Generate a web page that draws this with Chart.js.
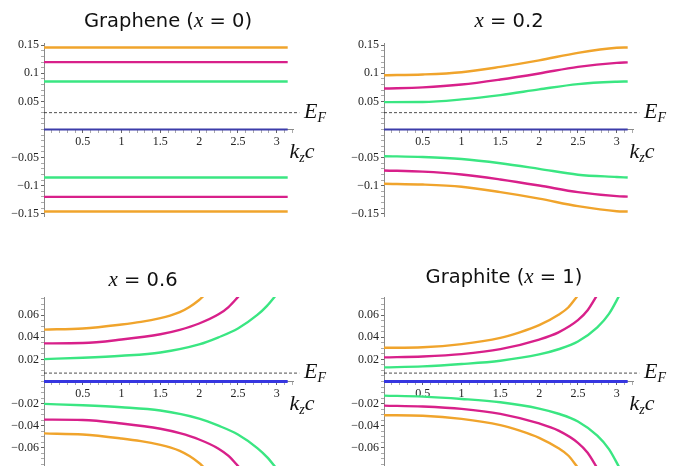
<!DOCTYPE html>
<html>
<head>
<meta charset="utf-8">
<script src="https://cdn.jsdelivr.net/npm/chart.js@4"></script>
<style>
  html, body { margin: 0; padding: 0; background: #fff; width: 683px; height: 466px; overflow: hidden; position: relative; }
  .panel { position: absolute; width: 340px; height: 230px; }
  .lbl { position: absolute; transform: translate(-50%, -50%); white-space: nowrap; color: #111; line-height: 1; }
  .title { font-family: "DejaVu Sans", sans-serif; font-size: 19.5px; }
  .mi { font-family: "Liberation Serif", serif; font-style: italic; font-size: 21px; }
  .ax { font-family: "Liberation Serif", serif; font-style: italic; font-size: 22px; }
  .ax sub { font-size: 14px; vertical-align: -4px; }
</style>
</head>
<body>

<div class="panel" style="left:0;top:0"><canvas id="p1" width="340" height="230"></canvas></div>
<div class="panel" style="left:340px;top:0"><canvas id="p2" width="340" height="230"></canvas></div>
<div class="panel" style="left:0;top:236px"><canvas id="p3" width="340" height="230"></canvas></div>
<div class="panel" style="left:340px;top:236px"><canvas id="p4" width="340" height="230"></canvas></div>

<div class="lbl title" style="left:168px;top:20px">Graphene (<span class="mi">x</span> = 0)</div>
<div class="lbl title" style="left:509px;top:20px"><span class="mi">x</span> = 0.2</div>
<div class="lbl title" style="left:143px;top:279px"><span class="mi">x</span> = 0.6</div>
<div class="lbl title" style="left:504px;top:276px">Graphite (<span class="mi">x</span> = 1)</div>

<div class="lbl ax" style="left:315px;top:112px">E<sub>F</sub></div>
<div class="lbl ax" style="left:302px;top:152px">k<sub>z</sub>c</div>
<div class="lbl ax" style="left:655px;top:112px">E<sub>F</sub></div>
<div class="lbl ax" style="left:642px;top:152px">k<sub>z</sub>c</div>
<div class="lbl ax" style="left:315px;top:372px">E<sub>F</sub></div>
<div class="lbl ax" style="left:302px;top:404px">k<sub>z</sub>c</div>
<div class="lbl ax" style="left:655px;top:372px">E<sub>F</sub></div>
<div class="lbl ax" style="left:642px;top:404px">k<sub>z</sub>c</div>

<script>
// ---- data (energies vs k_z c) ----------------------------------------------

const ORANGE = '#f0a42c', MAGENTA = '#d8208a', GREEN = '#3ae682';

const xTickValues = [0.5, 1, 1.5, 2, 2.5, 3];
const xTickLabels = ['0.5', '1', '1.5', '2', '2.5', '3'];
const yTickValuesWide = [0.15, 0.1, 0.05, -0.05, -0.1, -0.15];
const yTickLabelsWide = ['0.15', '0.1', '0.05', '\u22120.05', '\u22120.1', '\u22120.15'];
const yTickValuesNarrow = [0.06, 0.04, 0.02, -0.02, -0.04, -0.06];
const yTickLabelsNarrow = ['0.06', '0.04', '0.02', '\u22120.02', '\u22120.04', '\u22120.06'];

const efWideX = [0, 3.29];   const efWide = [0.03, 0.03];
const efNarrowX = [0, 3.29]; const efNarrow = [0.0076, 0.0076];
const zeroX = [0, 3.1416];   const zeroBand = [0, 0];

// Graphene (x = 0): flat bands
const kzG = [0, 3.1416];
const gOrangeUp = [0.146, 0.146],   gOrangeDn = [-0.146, -0.146];
const gMagentaUp = [0.12, 0.12],    gMagentaDn = [-0.12, -0.12];
const gGreenUp = [0.0855, 0.0855],  gGreenDn = [-0.0855, -0.0855];

// x = 0.2
const kz2 = [0, 0.5, 1, 1.5, 2, 2.5, 3, 3.1416];
const p2OrangeUp  = [0.0965, 0.098, 0.102, 0.1115, 0.123, 0.1365, 0.1455, 0.146];
const p2MagentaUp = [0.073, 0.075, 0.080, 0.089, 0.0998, 0.1116, 0.1187, 0.1195];
const p2GreenUp   = [0.0488, 0.049, 0.0536, 0.0613, 0.0714, 0.0808, 0.085, 0.0855];
const p2OrangeDn  = [-0.0965, -0.098, -0.102, -0.1115, -0.123, -0.1365, -0.1455, -0.146];
const p2MagentaDn = [-0.073, -0.075, -0.080, -0.089, -0.0998, -0.1116, -0.1187, -0.1195];
const p2GreenDn   = [-0.0475, -0.049, -0.0525, -0.06, -0.07, -0.0805, -0.0845, -0.0855];

// x = 0.6
const kz3Orange  = [0, 0.5, 1, 1.25, 1.5, 1.625, 1.75, 1.875, 2, 2.08];
const p3OrangeUp = [0.047, 0.048, 0.0516, 0.054, 0.0574, 0.0597, 0.0628, 0.0675, 0.0738, 0.079];
const p3OrangeDn = [-0.047, -0.048, -0.0516, -0.054, -0.0574, -0.0597, -0.0628, -0.0675, -0.0738, -0.079];
const kz3Magenta  = [0, 0.5, 1, 1.5, 1.75, 2, 2.25, 2.375, 2.52];
const p3MagentaUp = [0.0345, 0.0348, 0.038, 0.0428, 0.0468, 0.0525, 0.0608, 0.0672, 0.078];
const p3MagentaDn = [-0.0345, -0.0348, -0.038, -0.0428, -0.0468, -0.0525, -0.0608, -0.0672, -0.078];
const kz3Green  = [0, 0.5, 1, 1.5, 2, 2.25, 2.5, 2.75, 2.875, 3];
const p3GreenUp = [0.0203, 0.0215, 0.0233, 0.0263, 0.0336, 0.040, 0.048, 0.0603, 0.0685, 0.079];
const p3GreenDn = [-0.0203, -0.0215, -0.0233, -0.0263, -0.0336, -0.040, -0.048, -0.0603, -0.0685, -0.079];

// Graphite (x = 1)
const kz4Orange  = [0, 0.5, 1, 1.5, 1.75, 2, 2.25, 2.375, 2.5];
const p4OrangeUp = [0.0305, 0.031, 0.0338, 0.0395, 0.0445, 0.051, 0.0605, 0.067, 0.078];
const p4OrangeDn = [-0.0305, -0.031, -0.0338, -0.0395, -0.0445, -0.051, -0.0605, -0.067, -0.078];
const kz4Magenta  = [0, 0.5, 1, 1.5, 2, 2.25, 2.5, 2.625, 2.75];
const p4MagentaUp = [0.0218, 0.0227, 0.0248, 0.0293, 0.038, 0.0445, 0.0555, 0.0645, 0.0785];
const p4MagentaDn = [-0.0218, -0.0227, -0.0248, -0.0293, -0.038, -0.0445, -0.0555, -0.0645, -0.0785];
const kz4Green  = [0, 0.5, 1, 1.5, 2, 2.25, 2.5, 2.75, 2.9, 3.05];
const p4GreenUp = [0.0128, 0.0137, 0.0158, 0.0188, 0.0245, 0.0292, 0.0362, 0.049, 0.0612, 0.08];
const p4GreenDn = [-0.0128, -0.0137, -0.0158, -0.0188, -0.0245, -0.0292, -0.0362, -0.049, -0.0612, -0.08];

// ---- helpers ----------------------------------------------------------------

const pts = (xs, ys) => xs.map((x, i) => ({ x, y: ys[i] }));

function band(xs, ys, color) {
  return { data: pts(xs, ys), borderColor: color, borderWidth: 2.4, pointRadius: 0,
           cubicInterpolationMode: 'monotone', capBezierPoints: false, fill: false };
}

function labelFor(values, labels) {
  return v => {
    for (let i = 0; i < values.length; i++) if (Math.abs(v - values[i]) < 1e-9) return labels[i];
    return '';
  };
}

function isMajor(values) {
  return ctx => ctx.tick && values.some(m => Math.abs(ctx.tick.value - m) < 1e-9);
}

function makePanel(id, bands, opt) {
  const datasets = [
    { data: pts(opt.efX, opt.ef), borderColor: '#222', borderWidth: 0.8, borderDash: [3, 2],
      pointRadius: 0, clip: false },
    { data: pts(zeroX, zeroBand), borderColor: opt.blue, borderWidth: opt.blueWidth, pointRadius: 0 },
    ...bands,
  ];
  const majorY = isMajor(opt.yVals), majorX = isMajor(xTickValues);
  new Chart(document.getElementById(id).getContext('2d'), {
    type: 'line',
    data: { datasets },
    options: {
      responsive: false,
      animation: false,
      events: [],
      elements: { line: { capBezierPoints: false } },
      layout: { padding: { top: opt.top, bottom: opt.bottom, right: 47, left: 0 } },
      plugins: { legend: { display: false }, tooltip: { enabled: false } },
      scales: {
        x: {
          type: 'linear', min: 0, max: 3.21,
          position: { y: 0 },
          afterFit: s => { s.height = 0; s.paddingLeft = 0; s.paddingRight = 0; },
          border: { color: '#8a8a8a', width: 1 },
          grid: { drawOnChartArea: false, tickLength: 3,
                  tickColor: c => majorX(c) ? '#666' : '#aaa' },
          ticks: { stepSize: 0.1, autoSkip: false, includeBounds: false, maxRotation: 0, padding: 2,
                   color: '#222', font: { family: 'Liberation Serif', size: 12 },
                   callback: labelFor(xTickValues, xTickLabels) },
        },
        y: {
          type: 'linear', min: -opt.yMax, max: opt.yMax,
          position: 'left',
          afterFit: s => { s.width = 44; s.paddingTop = 0; s.paddingBottom = 0; },
          border: { color: '#8a8a8a', width: 1 },
          grid: { drawOnChartArea: false, tickLength: 3,
                  tickColor: c => majorY(c) ? '#666' : '#aaa' },
          ticks: { stepSize: opt.yStep, autoSkip: false, includeBounds: false, padding: 2,
                   color: '#222', font: { family: 'Liberation Serif', size: 12 },
                   callback: labelFor(opt.yVals, opt.yLabels) },
        },
      },
    },
  });
}

const wide = { top: 43, bottom: 14, yMax: 0.154, yStep: 0.01, yVals: yTickValuesWide, yLabels: yTickLabelsWide,
               efX: efWideX, ef: efWide, blue: '#3c3caa', blueWidth: 2 };
const narrow = { top: 61, bottom: 0, yMax: 0.0765, yStep: 0.005, yVals: yTickValuesNarrow, yLabels: yTickLabelsNarrow,
                 efX: efNarrowX, ef: efNarrow, blue: '#3636e0', blueWidth: 3 };

makePanel('p1', [
  band(kzG, gOrangeUp, ORANGE), band(kzG, gMagentaUp, MAGENTA), band(kzG, gGreenUp, GREEN),
  band(kzG, gGreenDn, GREEN), band(kzG, gMagentaDn, MAGENTA), band(kzG, gOrangeDn, ORANGE),
], wide);

makePanel('p2', [
  band(kz2, p2OrangeUp, ORANGE), band(kz2, p2MagentaUp, MAGENTA), band(kz2, p2GreenUp, GREEN),
  band(kz2, p2GreenDn, GREEN), band(kz2, p2MagentaDn, MAGENTA), band(kz2, p2OrangeDn, ORANGE),
], wide);

makePanel('p3', [
  band(kz3Orange, p3OrangeUp, ORANGE), band(kz3Magenta, p3MagentaUp, MAGENTA), band(kz3Green, p3GreenUp, GREEN),
  band(kz3Green, p3GreenDn, GREEN), band(kz3Magenta, p3MagentaDn, MAGENTA), band(kz3Orange, p3OrangeDn, ORANGE),
], narrow);

makePanel('p4', [
  band(kz4Orange, p4OrangeUp, ORANGE), band(kz4Magenta, p4MagentaUp, MAGENTA), band(kz4Green, p4GreenUp, GREEN),
  band(kz4Green, p4GreenDn, GREEN), band(kz4Magenta, p4MagentaDn, MAGENTA), band(kz4Orange, p4OrangeDn, ORANGE),
], narrow);
</script>
</body>
</html>
